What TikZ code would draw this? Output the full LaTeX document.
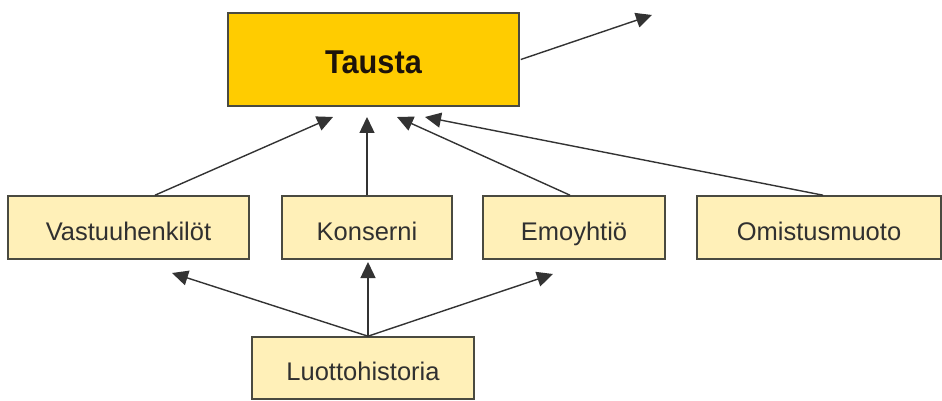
\documentclass[tikz,border=0pt]{standalone}
\usepackage{fontspec}
\setmainfont{Liberation Sans}
\newfontfamily\taustafont{Liberation Sans}[FakeStretch=0.93]
\usetikzlibrary{arrows.meta}
\definecolor{boxfill}{HTML}{FFF0B8}
\definecolor{boxline}{HTML}{4A4A40}
\definecolor{topfill}{HTML}{FFCC00}
\definecolor{txt}{HTML}{303030}
\definecolor{arr}{HTML}{333333}
\begin{document}
\begin{tikzpicture}[x=1pt,y=-1pt,
  sub/.style={draw=boxline,line width=1.6pt,fill=boxfill,minimum height=63pt,inner sep=0pt,text height=25pt,text depth=0pt,text=txt,font=\fontsize{25.5}{30}\selectfont},
  top/.style={draw=boxline,line width=1.6pt,fill=topfill,minimum width=291pt,minimum height=93pt,inner sep=0pt,text height=29pt,text depth=0pt,text={black!85!brown},font=\taustafont\bfseries\fontsize{33}{38}\selectfont},
  con/.style={draw=arr,line width=1.4pt,-{Triangle[length=16pt,width=15pt]}}]
\useasboundingbox[fill=white] (0,0) rectangle (942,401);
\node[top] (t) at (373.5,59.5) {Tausta};
\node[sub,minimum width=241pt] (v) at (128.5,227.5) {Vastuuhenkilöt};
\node[sub,minimum width=170pt] (k) at (367,227.5) {Konserni};
\node[sub,minimum width=182pt] (e) at (574,227.5) {Emoyhtiö};
\node[sub,minimum width=244pt] (o) at (819,227.5) {Omistusmuoto};
\node[sub,minimum width=222pt,minimum height=62pt] (l) at (363,368) {Luottohistoria};
\coordinate (out) at (652,15);
\coordinate (t1) at (333,117);
\coordinate (t2) at (367,117);
\coordinate (t3) at (397,117);
\coordinate (t4) at (425,117);
\coordinate (b1) at (172,273);
\coordinate (b2) at (368,262);
\coordinate (b3) at (553,274);
\draw[con] ([xshift=1pt]t.east) -- (out);
\draw[con] ([xshift=26.5pt]v.north) -- (t1);
\draw[con] (k.north) -- (t2);
\draw[con] ([xshift=-4pt]e.north) -- (t3);
\draw[con] ([xshift=4pt]o.north) -- (t4);
\draw[con] ([xshift=5pt]l.north) -- (b1);
\draw[con] ([xshift=5pt]l.north) -- (b2);
\draw[con] ([xshift=5pt]l.north) -- (b3);
\end{tikzpicture}
\end{document}
